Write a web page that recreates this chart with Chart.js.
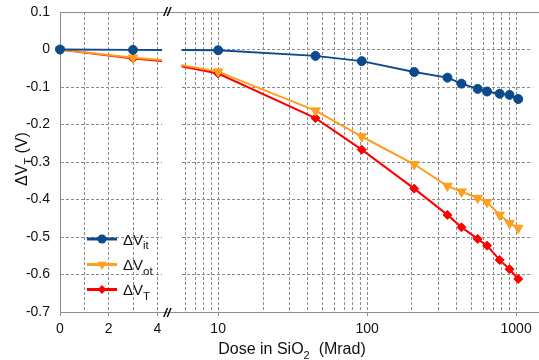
<!DOCTYPE html>
<html><head><meta charset="utf-8">
<script src="https://cdn.jsdelivr.net/npm/chart.js"></script>
<style>
html,body{margin:0;padding:0;background:#fff;overflow:hidden}
#wrap{position:relative;width:539px;height:360px;background:#fff}
canvas{position:absolute;top:0}
#cL{left:0}
#cR{left:175px}
</style></head><body>
<div id="wrap"><canvas id="cL" width="175" height="360"></canvas><canvas id="cR" width="364" height="360"></canvas></div>
<script>
// ---- data ----
const doses = [0, 3, 10, 45, 92, 207, 346, 430, 552, 638, 775, 903, 1033];
const dVit  = [0, -0.001, -0.002, -0.017, -0.031, -0.060, -0.075, -0.091, -0.105, -0.112, -0.118, -0.121, -0.132];
const dVot  = [0, -0.022, -0.059, -0.163, -0.232, -0.306, -0.364, -0.379, -0.396, -0.407, -0.441, -0.463, -0.476];
const dVT   = [0, -0.024, -0.064, -0.183, -0.267, -0.371, -0.441, -0.474, -0.505, -0.523, -0.561, -0.586, -0.612];
const seriesSubs = ['it', 'ot', 'T'];
const yTicks = [0.1, 0, -0.1, -0.2, -0.3, -0.4, -0.5, -0.6, -0.7];
const xLinTicks = [0, 1, 2, 3, 4];
const xLinLabels = [0, 2, 4];
const xLogTicks = [6, 7, 8, 9, 10, 20, 30, 40, 50, 60, 70, 80, 90, 100, 200, 300, 400, 500, 600, 700, 800, 900, 1000];
const xLogLabels = [10, 100, 1000];
const yTitle = ['ΔV', 'T', ' (V)'];
const xTitle = ['Dose in SiO', '2', '  (Mrad)'];

// ---- styles ----
const FONT = '"Liberation Sans", Arial, sans-serif';
const GRID = '#8c8c8c';
const AXIS = '#8c8c8c';
const TXT = '#111';
const colors = ['#0d4a8c', '#ff9e1f', '#ff0000'];
const styles = [
  {pointStyle: 'circle', radius: 4.5, rotation: 0},
  {pointStyle: 'triangle', radius: 5.5, rotation: 180},
  {pointStyle: 'rectRot', radius: 4.5, rotation: 0}
];
const allSeries = [dVit, dVot, dVT];

function makeDatasets(startIdx, clip) {
  return allSeries.map((s, k) => ({
    data: doses.slice(startIdx).map((d, i) => ({x: d, y: s[i + startIdx]})),
    borderColor: colors[k], backgroundColor: colors[k],
    pointBackgroundColor: colors[k], pointBorderColor: colors[k],
    borderWidth: 2, pointRadius: styles[k].radius, pointStyle: styles[k].pointStyle,
    pointRotation: styles[k].rotation, pointBorderWidth: 1,
    tension: 0, clip: clip
  }));
}

function drawRich(ctx, parts, x, y, size, subSize) {
  const widths = parts.map((p, i) => { ctx.font = (i === 1 ? subSize : size) + 'px ' + FONT; return ctx.measureText(p).width; });
  let cx = x;
  parts.forEach((p, i) => {
    ctx.font = (i === 1 ? subSize : size) + 'px ' + FONT;
    ctx.fillText(p, cx, i === 1 ? y + size * 0.3 : y);
    cx += widths[i];
  });
  return widths.reduce((a, b) => a + b, 0);
}
function richWidth(ctx, parts, size, subSize) {
  return parts.reduce((a, p, i) => { ctx.font = (i === 1 ? subSize : size) + 'px ' + FONT; return a + ctx.measureText(p).width; }, 0);
}
function marker(ctx, k, x, y) {
  const r = styles[k].radius;
  ctx.fillStyle = colors[k];
  ctx.beginPath();
  if (k === 0) { ctx.arc(x, y, r, 0, Math.PI * 2); }
  else if (k === 1) { ctx.moveTo(x - r * 0.87, y - r * 0.5); ctx.lineTo(x + r * 0.87, y - r * 0.5); ctx.lineTo(x, y + r); ctx.closePath(); }
  else { ctx.moveTo(x, y - r); ctx.lineTo(x + r, y); ctx.lineTo(x, y + r); ctx.lineTo(x - r, y); ctx.closePath(); }
  ctx.fill();
}

const tickFont = {family: FONT, size: 14};

function yScale(hidden) {
  return {
    type: 'linear', min: -0.7, max: 0.1,
    afterBuildTicks: s => { s.ticks = yTicks.map(v => ({value: v})); },
    afterFit: s => { s.width = hidden ? 0 : 60; s.paddingTop = 0; s.paddingBottom = 0; },
    ticks: {display: !hidden, callback: v => v === 0 ? '0' : v.toFixed(1), padding: 10, font: tickFont, color: TXT},
    grid: {color: GRID, lineWidth: 1, drawTicks: false},
    border: {display: !hidden, color: AXIS, width: 1, dash: [3, 2]}
  };
}
function xGrid(labels) {
  return {color: GRID, lineWidth: 1, drawTicks: true, tickLength: 4,
    tickColor: c => (c.tick && labels.includes(c.tick.value)) ? AXIS : 'rgba(0,0,0,0)'};
}

const frameLeft = {
  id: 'frameLeft',
  afterDatasetsDraw(chart) {
    const ctx = chart.ctx, ca = chart.chartArea, W = chart.width;
    ctx.save();
    ctx.strokeStyle = AXIS; ctx.lineWidth = 1;
    ctx.beginPath();
    ctx.moveTo(ca.left, Math.round(ca.top) + 0.5); ctx.lineTo(W, Math.round(ca.top) + 0.5);
    ctx.moveTo(ca.left, Math.round(ca.bottom) + 0.5); ctx.lineTo(W, Math.round(ca.bottom) + 0.5);
    ctx.stroke();
    ctx.fillStyle = '#000';
    ctx.font = 'italic bold 13px ' + FONT;
    ctx.textAlign = 'center'; ctx.textBaseline = 'middle';
    ctx.fillText('//', 167, ca.top + 0.5);
    ctx.fillText('//', 167, ca.bottom + 1);
    ctx.textAlign = 'left'; ctx.textBaseline = 'alphabetic';
    const ly = [239, 264.5, 289.5];
    ly.forEach((y, k) => {
      ctx.strokeStyle = colors[k]; ctx.lineWidth = 3;
      ctx.beginPath(); ctx.moveTo(87, y); ctx.lineTo(117, y); ctx.stroke();
      marker(ctx, k, 102, y);
      ctx.fillStyle = TXT;
      drawRich(ctx, ['ΔV', seriesSubs[k], ''], 123, y + 5.5, 15, 11.5);
    });
    ctx.save();
    ctx.translate(27, 159);
    ctx.rotate(-Math.PI / 2);
    ctx.fillStyle = TXT;
    const w = richWidth(ctx, yTitle, 16, 11);
    drawRich(ctx, yTitle, -w / 2, 0, 16, 11);
    ctx.restore();
    ctx.restore();
  }
};
const frameRight = {
  id: 'frameRight',
  afterDatasetsDraw(chart) {
    const ctx = chart.ctx, ca = chart.chartArea, W = chart.width;
    ctx.save();
    ctx.strokeStyle = AXIS; ctx.lineWidth = 1;
    ctx.beginPath();
    ctx.moveTo(0, Math.round(ca.top) + 0.5); ctx.lineTo(W, Math.round(ca.top) + 0.5);
    ctx.moveTo(0, Math.round(ca.bottom) + 0.5); ctx.lineTo(W, Math.round(ca.bottom) + 0.5);
    ctx.stroke();
    ctx.fillStyle = TXT; ctx.textAlign = 'left'; ctx.textBaseline = 'alphabetic';
    const w = richWidth(ctx, xTitle, 16, 11);
    drawRich(ctx, xTitle, 292 - 175 - w / 2, 354, 16, 11);
    ctx.restore();
  }
};

const baseOptions = {
  responsive: false, animation: false, devicePixelRatio: 1,
  events: [],
  plugins: {legend: {display: false}, tooltip: {enabled: false}, title: {display: false}}
};

new Chart(document.getElementById('cL'), {
  type: 'line',
  data: {datasets: makeDatasets(0, {left: false, top: false, right: 0, bottom: false})},
  options: Object.assign({}, baseOptions, {
    layout: {padding: {left: 0, right: 13, top: 12, bottom: 0}},
    scales: {
      x: {type: 'linear', min: 0, max: 4.19,
        afterBuildTicks: s => { s.ticks = xLinTicks.map(v => ({value: v})); },
        afterFit: s => { s.height = 48; s.paddingLeft = 0; s.paddingRight = 0; },
        ticks: {callback: v => xLinLabels.includes(v) ? String(v) : '', autoSkip: false, maxRotation: 0, padding: 5, font: tickFont, color: TXT},
        grid: xGrid(xLinLabels),
        border: {display: false, dash: [3, 2]}
      },
      y: yScale(false)
    }
  }),
  plugins: [frameLeft]
});

new Chart(document.getElementById('cR'), {
  type: 'line',
  data: {datasets: makeDatasets(1, {left: 0, top: false, right: false, bottom: false})},
  options: Object.assign({}, baseOptions, {
    layout: {padding: {left: 0, right: 0, top: 12, bottom: 0}},
    scales: {
      x: {type: 'logarithmic', min: 5.675, max: 1288,
        afterBuildTicks: s => { s.ticks = xLogTicks.map(v => ({value: v})); },
        afterFit: s => { s.height = 48; s.paddingLeft = 0; s.paddingRight = 0; },
        ticks: {callback: v => xLogLabels.includes(v) ? String(v) : '', autoSkip: false, maxRotation: 0, padding: 5, font: tickFont, color: TXT},
        grid: xGrid(xLogLabels),
        border: {display: false, dash: [3, 2]}
      },
      y: yScale(true)
    }
  }),
  plugins: [frameRight]
});
</script>
</body></html>
